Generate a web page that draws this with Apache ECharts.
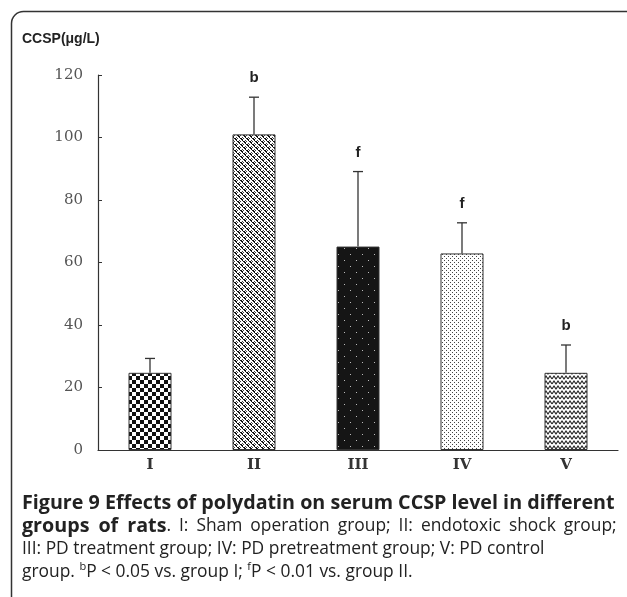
<!DOCTYPE html>
<html>
<head>
<meta charset="utf-8">
<script src="https://cdn.jsdelivr.net/npm/echarts@6/dist/echarts.min.js"></script>
<style>
html,body{margin:0;padding:0;background:#fff;}
#chart{width:627px;height:597px;}
</style>
</head>
<body>
<div id="chart"></div>
<script>
const categories = ['I', 'II', 'III', 'IV', 'V'];
const means = [24.7, 101, 65.1, 62.9, 24.7];
const errors = [4.6, 11.9, 24, 9.8, 8.9];
const sigLetters = ['', 'b', 'f', 'f', 'b'];
const yTicks = [0, 20, 40, 60, 80, 100, 120];

function makeTile(w, h, draw) {
  const c = document.createElement('canvas');
  c.width = w; c.height = h;
  const ctx = c.getContext('2d');
  draw(ctx, w, h);
  return c;
}
const pats = [
  makeTile(8, 8, (ctx) => {
    ctx.fillStyle = '#fff'; ctx.fillRect(0, 0, 8, 8);
    ctx.fillStyle = '#111';
    ctx.fillRect(0, 0, 4, 4); ctx.fillRect(4, 4, 4, 4);
  }),
  makeTile(6, 6, (ctx) => {
    ctx.fillStyle = '#fff'; ctx.fillRect(0, 0, 6, 6);
    ctx.fillStyle = '#111';
    ctx.fillRect(0, 0, 2, 1); ctx.fillRect(1, 1, 2, 1); ctx.fillRect(2, 2, 1, 1);
    ctx.fillRect(3, 3, 2, 1); ctx.fillRect(4, 4, 2, 1); ctx.fillRect(5, 5, 1, 1);
    ctx.fillStyle = '#444';
    ctx.fillRect(3, 0, 1, 1); ctx.fillRect(0, 3, 1, 1); ctx.fillRect(5, 2, 1, 1); ctx.fillRect(2, 5, 1, 1);
  }),
  makeTile(12, 12, (ctx) => {
    ctx.fillStyle = '#151515'; ctx.fillRect(0, 0, 12, 12);
    ctx.fillStyle = '#bbb';
    ctx.fillRect(2, 2, 1, 1); ctx.fillRect(8, 8, 1, 1);
  }),
  makeTile(4, 4, (ctx) => {
    ctx.fillStyle = '#fff'; ctx.fillRect(0, 0, 4, 4);
    ctx.fillStyle = '#444';
    ctx.fillRect(0, 0, 1, 1); ctx.fillRect(2, 2, 1, 1);
  }),
  makeTile(8, 5, (ctx) => {
    ctx.fillStyle = '#fff'; ctx.fillRect(0, 0, 8, 5);
    ctx.strokeStyle = '#222'; ctx.lineWidth = 1.1;
    ctx.beginPath();
    ctx.moveTo(0, 4); ctx.lineTo(2, 1); ctx.lineTo(4, 4); ctx.lineTo(6, 1); ctx.lineTo(8, 4);
    ctx.stroke();
  })
];

const chart = echarts.init(document.getElementById('chart'), null, {renderer: 'canvas'});
const errData = categories.map((c, i) => [i, means[i], means[i] + errors[i], sigLetters[i]]);

chart.setOption({
  animation: false,
  backgroundColor: '#fff',
  grid: {left: 98, right: 9, top: 75, bottom: 147, containLabel: false},
  xAxis: {
    type: 'category',
    data: categories,
    axisLine: {lineStyle: {color: '#333', width: 1.2}},
    axisTick: {inside: true, length: 5, alignWithLabel: false, lineStyle: {color: '#333'}},
    axisLabel: {fontFamily: 'DejaVu Serif', fontWeight: 'bold', fontSize: 15, color: '#333', margin: 8}
  },
  yAxis: {
    type: 'value',
    min: 0, max: 120, interval: 20,
    splitLine: {show: false},
    axisLine: {show: true, lineStyle: {color: '#333', width: 1.2}},
    axisTick: {show: true, inside: true, length: 4, lineStyle: {color: '#333'}},
    axisLabel: {fontFamily: 'DejaVu Serif', fontSize: 15, color: '#555', margin: 15,
      formatter: (v) => yTicks.includes(v) ? String(v) : ''}
  },
  series: [
    {
      type: 'bar',
      barWidth: 43,
      data: means.map((v, i) => ({
        value: v,
        itemStyle: {color: {image: pats[i], repeat: 'repeat'}, borderColor: '#333', borderWidth: 1}
      }))
    },
    {
      type: 'custom',
      data: errData,
      encode: {x: 0, y: [1, 2]},
      renderItem: function (params, api) {
        const base = api.coord([api.value(0), api.value(1)]);
        const top = api.coord([api.value(0), api.value(2)]);
        const letter = sigLetters[params.dataIndex];
        const st = {stroke: '#333', lineWidth: 1.3};
        return {
          type: 'group',
          children: [
            {type: 'line', shape: {x1: base[0], y1: base[1], x2: top[0], y2: top[1]}, style: st},
            {type: 'line', shape: {x1: top[0] - 5, y1: top[1], x2: top[0] + 5, y2: top[1]}, style: st},
            {type: 'text', style: {text: letter, x: top[0], y: top[1] - 19, align: 'center', verticalAlign: 'middle',
              fontFamily: 'Liberation Sans', fontWeight: 'bold', fontSize: 15, fill: '#222'}}
          ]
        };
      },
      z: 5
    }
  ],
  graphic: [
    {type: 'rect', left: 9, top: 9, shape: {x: 0, y: 0, width: 660, height: 640, r: 12},
      style: {fill: 'none', stroke: '#333', lineWidth: 1.5}, z: -1},
    {type: 'text', left: 22, top: 32, style: {text: 'CCSP(μg/L)', fontFamily: 'Liberation Sans', fontWeight: 'bold', fontSize: 14, fill: '#222'}},
    {type: 'text', left: 22, top: 493, style: {
      text: '{b|Figure 9 Effects of polydatin on serum CCSP level in different}\n' +
            '{b|groups}{gb| }{b|of}{gb| }{b|rats}{n|.}{g| }{n|I:}{g| }{n|Sham}{g| }{n|operation}{g| }{n|group;}{g| }{n|II:}{g| }{n|endotoxic}{g| }{n|shock}{g| }{n|group;}\n' +
            '{n|III: PD treatment group; IV: PD pretreatment group; V: PD control}\n' +
            '{n|group. }{s|b}{n|P < 0.05 vs. group I; }{s|f}{n|P < 0.01 vs. group II.}',
      rich: {
        b: {fontFamily: 'Open Sans', fontWeight: 'bold', fontSize: 19.7, fill: '#222', lineHeight: 23},
        gb: {fontFamily: 'Open Sans', fontWeight: 'bold', fontSize: 19.7, width: 9, lineHeight: 23},
        n: {fontFamily: 'Open Sans', fontSize: 17.4, fill: '#222', lineHeight: 23},
        g: {fontFamily: 'Open Sans', fontSize: 17.4, width: 8, lineHeight: 23},
        s: {fontFamily: 'Open Sans', fontSize: 11, fill: '#222', lineHeight: 23, padding: [0, 0, 10, 0]}
      }
    }}
  ]
});
</script>
</body>
</html>
